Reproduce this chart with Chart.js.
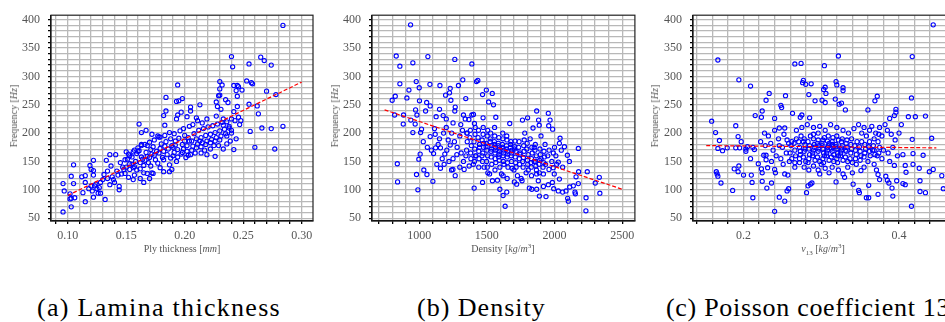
<!DOCTYPE html>
<html><head><meta charset="utf-8">
<script src="https://cdn.jsdelivr.net/npm/chart.js@4.4.0/dist/chart.umd.min.js"></script>
<style>
html,body{margin:0;padding:0;background:#fff;overflow:hidden;width:945px;height:322px;}
#wrap{position:relative;width:945px;height:322px;overflow:hidden;}
canvas{position:absolute;top:0;}
.t{position:absolute;font-family:"Liberation Serif","DejaVu Serif",serif;color:#555;white-space:nowrap;font-size:10px;line-height:10px;}
.yt{transform:translate(-50%,-50%) rotate(-90deg);}
.xt{transform:translate(-50%,-50%);}
.t sub,.t sup{font-size:7px;line-height:0;}
.cap{position:absolute;font-family:"Liberation Serif","DejaVu Serif",serif;font-size:26px;line-height:26px;letter-spacing:1px;color:#000;white-space:nowrap;top:295px;}
</style></head>
<body><div id="wrap">
<canvas id="c1" width="320" height="260" style="left:0px;width:320px;height:260px"></canvas>
<canvas id="c2" width="320" height="260" style="left:320px;width:320px;height:260px"></canvas>
<canvas id="c3" width="325" height="260" style="left:640px;width:325px;height:260px"></canvas>
<div class="t yt" style="left:14px;top:116px">Frequency [<i>Hz</i>]</div>
<div class="t yt" style="left:335px;top:116px">Frequency [<i>Hz</i>]</div>
<div class="t yt" style="left:655px;top:116px">Frequency [<i>Hz</i>]</div>
<div class="t xt" style="left:182px;top:249px">Ply thickness [<i>mm</i>]</div>
<div class="t xt" style="left:503px;top:249px">Density [<i>kg</i>/<i>m</i><sup>3</sup>]</div>
<div class="t xt" style="left:823px;top:249px"><i>ν</i><sub>13</sub> [<i>kg</i>/<i>m</i><sup>3</sup>]</div>
<div class="cap" style="left:37px;letter-spacing:1.3px">(a) Lamina thickness</div>
<div class="cap" style="left:417px">(b) Density</div>
<div class="cap" style="left:666px;letter-spacing:0.7px">(c) Poisson coefficient 13</div>
</div>
<script>
// ---------- DATA ----------
const laminaPoints = [
[0.096,61],[0.096,111],[0.097,98],[0.105,144],[0.103,124],[0.105,111],[0.102,93],[0.103,70],[0.103,85],[0.106,86],[0.102,84],[0.112,123],[0.115,125],[0.115,113],[0.113,95],[0.115,79],[0.119,143],[0.122,152],[0.122,134],[0.120,136],[0.122,126],[0.120,107],[0.123,107],[0.121,98],[0.122,87],[0.125,102],[0.126,94],[0.128,113],[0.128,94],[0.132,83],[0.133,152],[0.136,162],[0.134,133],[0.137,142],[0.134,120],[0.138,123],[0.136,109],[0.140,113],[0.141,162],[0.144,100],[0.144,106],[0.142,133],[0.145,148],[0.146,128],[0.150,167],[0.148,136],[0.152,122],[0.156,139],[0.157,126],[0.156,118],[0.161,216],[0.163,201],[0.165,113],[0.167,205],[0.160,168],[0.168,129],[0.173,129],[0.177,195],[0.179,193],[0.182,231],[0.184,263],[0.183,214],[0.184,239],[0.182,132],[0.187,132],[0.189,136],[0.194,285],[0.193,256],[0.195,257],[0.194,232],[0.197,237],[0.198,261],[0.193,225],[0.202,229],[0.205,246],[0.205,239],[0.203,161],[0.213,250],[0.210,227],[0.214,165],[0.219,162],[0.226,159],[0.227,255],[0.229,266],[0.230,291],[0.230,278],[0.230,267],[0.228,247],[0.231,242],[0.232,285],[0.240,335],[0.241,317],[0.235,259],[0.237,254],[0.242,238],[0.242,284],[0.245,284],[0.246,282],[0.244,275],[0.245,265],[0.249,276],[0.245,247],[0.242,171],[0.253,292],[0.255,251],[0.255,322],[0.257,289],[0.258,287],[0.256,203],[0.260,175],[0.262,248],[0.263,234],[0.265,334],[0.268,328],[0.274,320],[0.270,274],[0.278,268],[0.266,209],[0.274,208],[0.277,172],[0.284,390],[0.284,212],
[0.233,225],[0.236,220],[0.238,212],[0.240,205],[0.243,222],[0.246,228],[0.248,222],[0.236,195],[0.240,200],[0.244,190],[0.247,215],[0.236,181],[0.233,172],[0.239,186],[0.229,178],[0.222,172],
[0.118,102],[0.124,110],[0.127,104],[0.130,118],[0.131,127],[0.139,118],[0.143,126],[0.147,140],[0.149,153],[0.153,160],[0.155,145],[0.157,170],[0.159,135],[0.162,120],[0.165,130],[0.170,120],[0.172,130],[0.163,180],[0.168,178],[0.172,198],
[0.150,140],[0.151,154],[0.149,129],[0.152,163],[0.153,146],[0.155,158],[0.153,136],[0.156,167],
[0.158,150],[0.157,141],[0.159,164],[0.160,174],[0.162,148],[0.163,158],[0.161,169],[0.162,137],[0.164,154],[0.163,178],
[0.166,152],[0.167,166],[0.165,143],[0.166,180],[0.168,159],[0.170,157],[0.171,171],[0.169,148],[0.170,184],[0.172,163],[0.171,142],
[0.174,161],[0.175,153],[0.173,176],[0.176,168],[0.174,188],[0.177,147],[0.178,165],[0.179,173],[0.180,181],[0.178,193],[0.179,139],[0.181,157],
[0.182,168],[0.183,177],[0.184,185],[0.182,153],[0.183,196],[0.185,162],[0.186,172],[0.187,144],[0.188,190],[0.187,201],[0.189,178],[0.188,156],
[0.190,175],[0.191,166],[0.192,186],[0.190,160],[0.191,199],[0.193,150],[0.192,179],[0.194,171],[0.195,191],[0.196,204],[0.194,158],[0.197,163],
[0.198,180],[0.199,172],[0.200,196],[0.198,166],[0.199,208],[0.201,157],[0.200,186],[0.202,178],[0.203,192],[0.202,168],[0.204,212],[0.205,162],[0.204,186],
[0.206,186],[0.207,177],[0.208,199],[0.206,170],[0.207,215],[0.209,165],[0.210,190],[0.211,181],[0.212,205],[0.210,174],[0.211,222],[0.213,186],
[0.214,192],[0.215,183],[0.216,208],[0.214,176],[0.215,218],[0.217,170],[0.218,196],[0.219,186],[0.220,211],[0.218,180],[0.219,225],
[0.222,198],[0.223,189],[0.224,213],[0.222,183],[0.225,178],[0.226,201],[0.227,192],[0.228,216],[0.226,186],[0.227,230],
[0.230,204],[0.231,195],[0.232,219],[0.230,188],[0.234,207],[0.235,199],[0.233,214],[0.238,209],[0.240,225]
];
const laminaFit = [[0.10,90],[0.30,290]];

const densityPoints = [
[936,391],[830,336],[857,318],[953,324],[1064,335],[857,287],[924,276],[978,291],[1000,280],[1002,257],[909,262],[823,265],[800,258],[1079,286],[1153,284],[1229,279],[1195,267],[1224,271],[1234,258],[1263,239],[1150,242],[1177,231],[1266,246],[1290,284],[1322,294],[1344,261],[1263,330],[1389,322],[1423,291],[1433,293],[1468,268],[1496,276],[1513,255],[1540,270],[1549,250],[1401,233],[1472,227],[1566,228],[884,232],[818,232],[973,241],[983,232],[1047,239],[1055,254],[1081,248],[882,216],[938,223],[970,216],[953,201],[1017,207],[1010,201],[1081,194],[1118,198],[1113,208],[1125,229],[1030,185],[997,154],[1007,163],[1034,135],[1057,127],[980,127],[990,100],[838,146],[840,114],[1101,115],[1130,145],[1157,138],[1184,145],[1106,164],[1121,174],[1157,174],[1189,163],[1204,170],[1229,179],[1214,188],[1239,135],[1249,136],[1266,125],[1278,162],[1327,150],[1332,136],[1369,142],[1307,215],[1340,225],[1327,232],[1367,224],[1389,232],[1408,217],[1354,200],[1406,103],[1468,113],[1541,116],[1507,130],[1578,117],[1608,128],[1596,101],[1620,90],[1635,71],[1647,96],[1703,114],[1726,125],[1753,120],[1760,116],[1814,103],[1832,101],[1868,101],[1888,89],[1918,106],[1937,88],[1954,109],[1984,113],[1994,102],[2028,98],[2060,96],[2085,98],[2097,85],[2102,80],[2112,105],[2139,107],[2151,96],[2154,93],[2176,111],[2233,86],[2232,63],[2301,112],[2331,122],[2335,94],[2242,132],[2178,132],[2159,123],[2095,161],[2176,173],[2073,176],[2041,191],[2036,182],[1954,235],[1967,223],[1957,213],[1868,239],[1882,223],[1887,214],[1801,227],[1986,207],[1841,209],[1763,223],[1669,217],[1991,165],[1934,145],[1959,136],[1991,139],[2016,145],[2028,149],[1998,128],[2036,119],[1868,128],[1880,116],
[1150,190],[1180,200],[1200,210],[1240,200],[1260,185],[1280,175],[1300,195],[1310,165],[1250,155],[1220,150],[1170,155],[1140,180],[1090,170],[1060,175],[1300,140],[1320,205],[1200,225],[1250,218],
[1780,200],[1820,190],[1850,175],[1900,195],[1930,180],[1960,170],[2000,175],[2010,160],[2050,170],[1980,150],[1850,150],[1900,155],[1950,160],[2060,140],[2110,150],[1790,130],[1830,125],[1700,135],[1720,110],[1650,120],[1620,125],[1560,135],[1520,128],[1480,140],[1440,140],[1400,145],[1420,160],
[1350,170],[1355,185],[1345,160],[1352,200],[1380,165],[1385,178],[1375,192],[1382,155],[1378,205],
[1410,172],[1415,160],[1405,185],[1412,198],[1408,150],[1414,210],[1440,168],[1445,180],[1435,192],[1442,155],[1438,205],[1446,175],
[1470,165],[1475,175],[1465,188],[1472,198],[1468,150],[1476,182],[1464,160],[1473,210],[1500,170],[1505,160],[1495,182],[1502,195],[1498,150],[1506,205],[1494,176],[1503,140],
[1530,168],[1535,178],[1525,190],[1532,158],[1528,200],[1536,145],[1524,185],[1533,172],[1560,165],[1565,175],[1555,185],[1562,155],[1558,195],[1566,148],[1554,180],[1563,170],[1557,210],
[1590,162],[1595,172],[1585,182],[1592,152],[1588,192],[1596,140],[1584,178],[1593,168],[1587,158],[1620,160],[1625,170],[1615,180],[1622,150],[1618,190],[1626,145],[1614,175],[1623,165],[1617,200],
[1650,158],[1655,168],[1645,178],[1652,148],[1648,188],[1656,140],[1644,172],[1653,163],[1647,195],[1680,160],[1685,170],[1675,180],[1682,150],[1678,185],[1686,138],[1674,175],[1683,165],
[1710,158],[1715,168],[1705,176],[1712,148],[1708,186],[1716,140],[1704,172],[1740,155],[1745,165],[1735,175],[1742,145],[1738,185],[1746,162],
[1770,157],[1775,168],[1765,150],[1772,178],[1768,140],[1776,188],[1800,152],[1805,162],[1795,172],[1802,145],[1798,182],[1806,135],
[1830,155],[1835,165],[1825,148],[1832,175],[1828,140],[1860,150],[1865,160],[1855,170],[1862,142],[1858,180],[1866,135],
[1890,152],[1895,162],[1885,145],[1892,172],[1888,130],[1920,148],[1925,158],[1915,140],[1922,168],[1918,128]
];
const densityFit = [[744,241],[2500,101]];

const poissonPoints = [
[0.444,391],[0.167,329],[0.417,335],[0.322,336],[0.304,319],[0.266,322],[0.274,323],[0.194,294],[0.209,283],[0.277,293],[0.276,289],[0.280,286],[0.287,287],[0.319,291],[0.320,285],[0.303,277],[0.305,281],[0.328,280],[0.328,275],[0.284,268],[0.306,270],[0.233,270],[0.229,258],[0.254,266],[0.301,258],[0.305,254],[0.323,251],[0.326,253],[0.318,260],[0.292,257],[0.248,249],[0.249,245],[0.263,235],[0.275,232],[0.224,239],[0.223,228],[0.215,231],[0.285,227],[0.273,228],[0.331,241],[0.360,241],[0.369,257],[0.372,265],[0.416,262],[0.388,226],[0.394,231],[0.396,237],[0.396,242],[0.412,229],[0.421,229],[0.159,221],[0.164,201],[0.169,187],[0.190,213],[0.193,194],[0.197,185],[0.167,173],[0.173,169],[0.179,174],[0.190,174],[0.195,174],[0.203,172],[0.203,168],[0.205,176],[0.212,175],[0.214,171],[0.209,155],[0.188,137],[0.194,142],[0.193,132],[0.165,132],[0.166,128],[0.171,112],[0.167,124],[0.186,99],[0.212,86],[0.200,126],[0.211,113],[0.210,126],[0.219,146],[0.223,137],[0.226,161],[0.229,161],[0.229,153],[0.224,115],[0.230,103],[0.236,112],[0.224,130],[0.231,139],[0.240,136],[0.241,130],[0.240,62],[0.246,87],[0.253,80],[0.256,98],[0.258,102],[0.257,126],[0.253,128],[0.251,145],[0.246,209],[0.253,209],[0.240,226],[0.240,205],[0.246,178],[0.256,188],[0.288,112],[0.286,110],[0.281,95],[0.283,107],[0.298,128],[0.319,114],[0.328,128],[0.341,110],[0.348,99],[0.349,95],[0.358,86],[0.361,86],[0.361,108],[0.351,134],[0.371,135],[0.373,127],[0.375,118],[0.373,92],[0.391,103],[0.392,89],[0.383,124],[0.385,117],[0.387,112],[0.394,143],[0.409,131],[0.408,143],[0.418,145],[0.397,116],[0.405,111],[0.408,109],[0.416,71],[0.427,97],[0.434,95],[0.427,116],[0.426,138],[0.431,161],[0.418,164],[0.405,162],[0.439,132],[0.444,136],[0.455,125],[0.457,102],[0.442,191],[0.417,189],[0.434,230],
[0.222,185],[0.228,178],[0.235,182],[0.238,170],[0.242,160],[0.245,190],[0.250,175],[0.255,165],[0.248,155],[0.236,150],[0.232,195],[0.227,200],[0.252,198],[0.258,182],
[0.352,200],[0.355,210],[0.358,195],[0.362,205],[0.365,212],[0.370,200],[0.375,210],[0.378,195],[0.382,215],[0.385,205],[0.390,198],[0.395,188],[0.400,200],[0.403,215],[0.380,170],[0.386,165],[0.392,175],[0.398,160],[0.388,150],[0.378,155],[0.368,145],[0.372,160],[0.360,150],[0.366,170],[0.355,140],[0.345,145],[0.340,130],[0.334,140],[0.330,122],[0.322,135],[0.314,140],[0.310,130],[0.305,138],[0.300,145],[0.296,135],[0.290,142],[0.284,135],[0.278,140],[0.272,148],[0.266,140],[0.262,155],[0.268,205],[0.275,210],[0.282,215],[0.290,210],[0.298,212],[0.305,205],[0.312,215],[0.320,210],[0.328,205],[0.335,200],[0.342,208],[0.348,215],
[0.260,165],[0.261,178],[0.259,150],[0.262,185],[0.266,170],[0.267,160],[0.265,182],[0.266,148],[0.268,190],
[0.272,175],[0.273,162],[0.271,185],[0.272,155],[0.274,195],[0.273,168],[0.278,168],[0.279,180],[0.277,158],[0.278,190],[0.280,150],[0.279,172],[0.277,185],
[0.284,172],[0.285,162],[0.283,185],[0.284,155],[0.286,195],[0.285,178],[0.283,148],[0.290,170],[0.291,180],[0.289,160],[0.290,190],[0.292,152],[0.291,175],[0.289,165],[0.290,198],
[0.296,168],[0.297,178],[0.295,158],[0.296,188],[0.298,150],[0.297,172],[0.295,182],[0.296,200],[0.302,172],[0.303,165],[0.301,182],[0.302,155],[0.304,192],[0.303,148],[0.301,178],[0.302,188],[0.304,160],
[0.308,170],[0.309,178],[0.307,160],[0.308,186],[0.310,152],[0.309,195],[0.307,165],[0.308,175],[0.310,182],[0.314,168],[0.315,176],[0.313,158],[0.314,185],[0.316,150],[0.315,192],[0.313,172],[0.314,180],[0.316,162],
[0.320,172],[0.321,165],[0.319,180],[0.320,155],[0.322,188],[0.321,148],[0.319,176],[0.320,195],[0.322,160],[0.326,170],[0.327,178],[0.325,160],[0.326,185],[0.328,152],[0.327,190],[0.325,165],[0.326,174],
[0.332,168],[0.333,175],[0.331,158],[0.332,182],[0.334,150],[0.333,188],[0.331,170],[0.338,165],[0.339,172],[0.337,155],[0.338,180],[0.340,148],[0.339,190],
[0.344,170],[0.345,162],[0.343,178],[0.344,155],[0.346,185],[0.350,168],[0.351,160],[0.349,176],[0.350,152],[0.352,185],
[0.356,165],[0.357,172],[0.355,158],[0.356,180],[0.362,168],[0.363,160],[0.361,176],[0.362,185],[0.368,170],[0.369,162],[0.367,178],[0.368,190],[0.374,165],[0.375,175],[0.373,185],[0.374,198]
];
const poissonFit = [[0.152,178],[0.448,174]];

const freqRange = [45, 408];
const laminaRange = [0.0857, 0.3097];
const densityRange = [651, 2594];
const poissonRange = [0.135, 0.472];

// ---------- CHART ----------
const FAMILY = "'Liberation Serif', 'DejaVu Serif', serif";
const frame = {id: 'frame', afterDraw(chart) {
  const a = chart.chartArea, c = chart.ctx;
  c.save(); c.strokeStyle = '#222'; c.lineWidth = 1.2;
  c.strokeRect(a.left, a.top, a.right - a.left, a.bottom - a.top);
  c.restore();
}};
function isMult(v, m) { return Math.abs(v / m - Math.round(v / m)) < 1e-6; }
const GRID = {color: '#b8b8b8', tickColor: '#000', lineWidth: 1.3, tickLength: 3};

function makePanel(id, pts, fit, xr, xStep, xMajor, fmt, yW, padR) {
  new Chart(document.getElementById(id), {
    type: 'scatter',
    data: {datasets: [
      {type: 'line', data: fit.map(p => ({x: p[0], y: p[1]})), borderColor: '#ff0000', borderWidth: 1.2,
       borderDash: [4, 2], pointRadius: 0, fill: false, order: 0},
      {data: pts.map(p => ({x: p[0], y: p[1]})), pointRadius: 2.1, pointBorderWidth: 1.1,
       borderColor: '#0000ff', backgroundColor: 'rgba(0,0,0,0)', pointStyle: 'circle', order: 1}
    ]},
    options: {
      responsive: false, animation: false, events: [],
      layout: {padding: {top: 11, right: padR, left: 0, bottom: 0}},
      plugins: {legend: {display: false}, tooltip: {enabled: false}},
      scales: {
        x: {type: 'linear', min: xr[0], max: xr[1],
            ticks: {stepSize: xStep, includeBounds: false, autoSkip: false, maxRotation: 0, color: '#555',
                    font: {family: FAMILY, size: 12}, padding: 5,
                    callback: v => isMult(v, xMajor) ? fmt(v) : ''},
            grid: GRID,
            border: {color: '#000', width: 1.2},
            afterFit: s => { s.height = 39; }},
        y: {type: 'linear', min: freqRange[0], max: freqRange[1],
            ticks: {stepSize: 10, includeBounds: false, autoSkip: false, color: '#555',
                    font: {family: FAMILY, size: 12}, padding: 8,
                    callback: v => isMult(v, 50) ? String(v) : ''},
            grid: GRID,
            border: {color: '#000', width: 1.2},
            afterFit: s => { s.width = yW; }}
      }
    },
    plugins: [frame]
  });
}
makePanel('c1', laminaPoints, laminaFit, laminaRange, 0.01, 0.05, v => v.toFixed(2), 51, 7);
makePanel('c2', densityPoints, densityFit, densityRange, 100, 500, v => String(v), 52, 5);
makePanel('c3', poissonPoints, poissonFit, poissonRange, 0.02, 0.1, v => v.toFixed(1), 53, 10);
</script>
</body></html>
